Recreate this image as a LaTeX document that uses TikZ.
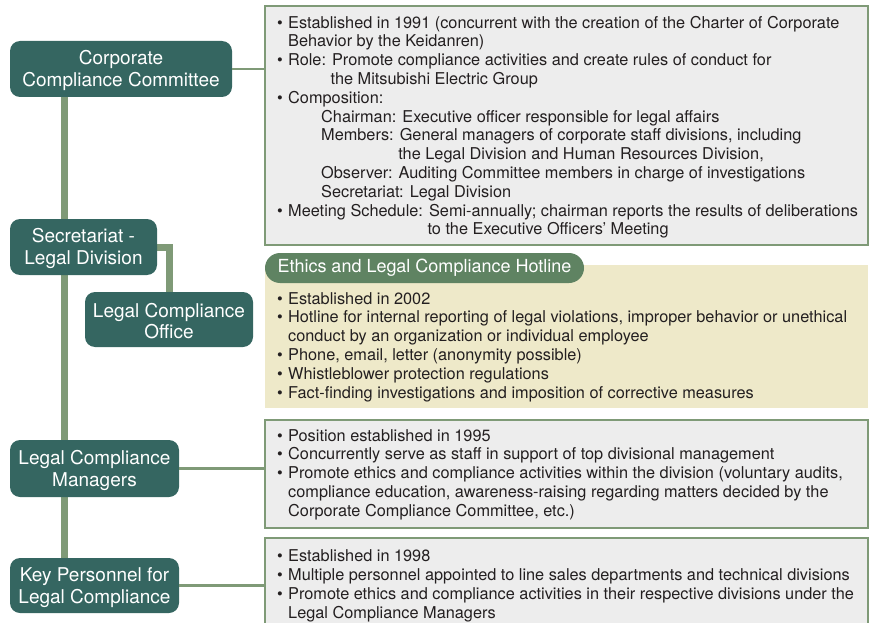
\documentclass[tikz,border=0pt]{standalone}
\usepackage{fontspec}
\setmainfont{TeX Gyre Heros}
\usetikzlibrary{positioning, backgrounds}

\definecolor{unitteal}{RGB}{53,102,97}
\definecolor{linkgreen}{RGB}{127,154,119}
\definecolor{boxgray}{RGB}{237,237,237}
\definecolor{hotbeige}{RGB}{238,233,201}
\definecolor{tabgreen}{RGB}{95,131,98}
\definecolor{inkblack}{RGB}{35,31,32}

\newcommand{\itm}{\strut\makebox[11pt][l]{\textbullet}}
\newcommand{\cont}{\hspace*{11pt}}
\newcommand{\unitstrut}{\rule{0pt}{17.5pt}}

\tikzset{
  unit/.style={rectangle, rounded corners=10pt, fill=unitteal, text=white, align=center,
    inner sep=0pt, font=\fontsize{19}{21.7}\selectfont},
  infobox/.style={rectangle, fill=boxgray, draw=linkgreen, line width=1.8pt, inner sep=0pt,
    minimum width=603pt},
  bodytext/.style={anchor=north west, inner sep=0pt, align=left, text=inkblack,
    font=\fontsize{16.3}{18.8}\selectfont},
  trunk/.style={draw=linkgreen, line width=7pt},
  link/.style={draw=linkgreen, line width=2.5pt}
}

\begin{document}
\begin{tikzpicture}[x=1pt, y=-1pt]
\useasboundingbox (0,0) rectangle (878,623);
\clip (0,0) rectangle (878,623);

%Units
\node (ccc) at (121,69) [unit, minimum width=222pt, minimum height=56pt] {\unitstrut Corporate\\Compliance Committee};
\node (sec) at (83.5,247) [unit, minimum width=147pt, minimum height=56pt] {\unitstrut Secretariat -\\Legal Division};
\node (lco) at (169,319.5) [unit, minimum width=168pt, minimum height=55pt] {\unitstrut Legal Compliance\\Office};
\node (lcm) at (94.5,468.5) [unit, minimum width=169pt, minimum height=57pt] {\unitstrut Legal Compliance\\Managers};
\node (kp) at (94.5,585.5) [unit, minimum width=169pt, minimum height=55pt] {\unitstrut Key Personnel for\\Legal Compliance};

%Boxes
\node (cccbox) at (566.5,125.5) [infobox, minimum height=239pt] {};
\node (hotbox) at (566.5,336.5) [rectangle, fill=hotbeige, inner sep=0pt, minimum width=603pt, minimum height=143pt] {};
\node (hottab) at (424.5,268) [rectangle, rounded corners=15pt, fill=tabgreen, text=white, inner sep=0pt,
  minimum width=319pt, minimum height=30pt, font=\fontsize{18}{20}\selectfont] {Ethics and Legal Compliance Hotline};
\node (lcmbox) at (566.5,474) [infobox, minimum height=108pt] {};
\node (kpbox) at (566.5,590) [infobox, minimum height=104pt] {};

%Connectors
\begin{scope}[on background layer]
\draw[trunk] ([xshift=55pt]ccc.south west) -- ([xshift=55pt]kp.north west);
\draw[trunk] (sec.east) -| (lco.north);
\end{scope}
\draw[link] (ccc.east) -- (ccc.east -| cccbox.west);
\draw[link] (lcm.east) -- (lcm.east -| lcmbox.west);
\draw[link] (kp.east) -- (kp.east -| kpbox.west);

%Texts
\node (ccctext) at (277,14.8) [bodytext] {%
\itm Established in 1991 (concurrent with the creation of the Charter of Corporate\\
\cont Behavior by the Keidanren)\\
\itm Role: Promote compliance activities and create rules of conduct for\\
\cont\hphantom{Role:\ }the Mitsubishi Electric Group\\
\itm Composition:\\
\hspace*{44pt}Chairman: Executive officer responsible for legal affairs\\
\hspace*{44pt}Members: General managers of corporate staff divisions, including\\
\hspace*{44pt}\hphantom{Members:\ }the Legal Division and Human Resources Division,\\
\hspace*{44pt}Observer: Auditing Committee members in charge of investigations\\
\hspace*{44pt}Secretariat: Legal Division\\
\itm Meeting Schedule: Semi-annually; chairman reports the results of deliberations\\
\cont\hphantom{Meeting Schedule:\ }to the Executive Officers’ Meeting};

\node (hottext) at (277,290.8) [bodytext] {%
\itm Established in 2002\\
\itm Hotline for internal reporting of legal violations, improper behavior or unethical\\
\cont conduct by an organization or individual employee\\
\itm Phone, email, letter (anonymity possible)\\
\itm Whistleblower protection regulations\\
\itm Fact-finding investigations and imposition of corrective measures};

\node (lcmtext) at (277,427.8) [bodytext] {%
\itm Position established in 1995\\
\itm Concurrently serve as staff in support of top divisional management\\
\itm Promote ethics and compliance activities within the division (voluntary audits,\\
\cont compliance education, awareness-raising regarding matters decided by the\\
\cont Corporate Compliance Committee, etc.)};

\node (kptext) at (277,548.3) [bodytext] {%
\itm Established in 1998\\
\itm Multiple personnel appointed to line sales departments and technical divisions\\
\itm Promote ethics and compliance activities in their respective divisions under the\\
\cont Legal Compliance Managers};

\end{tikzpicture}
\end{document}
